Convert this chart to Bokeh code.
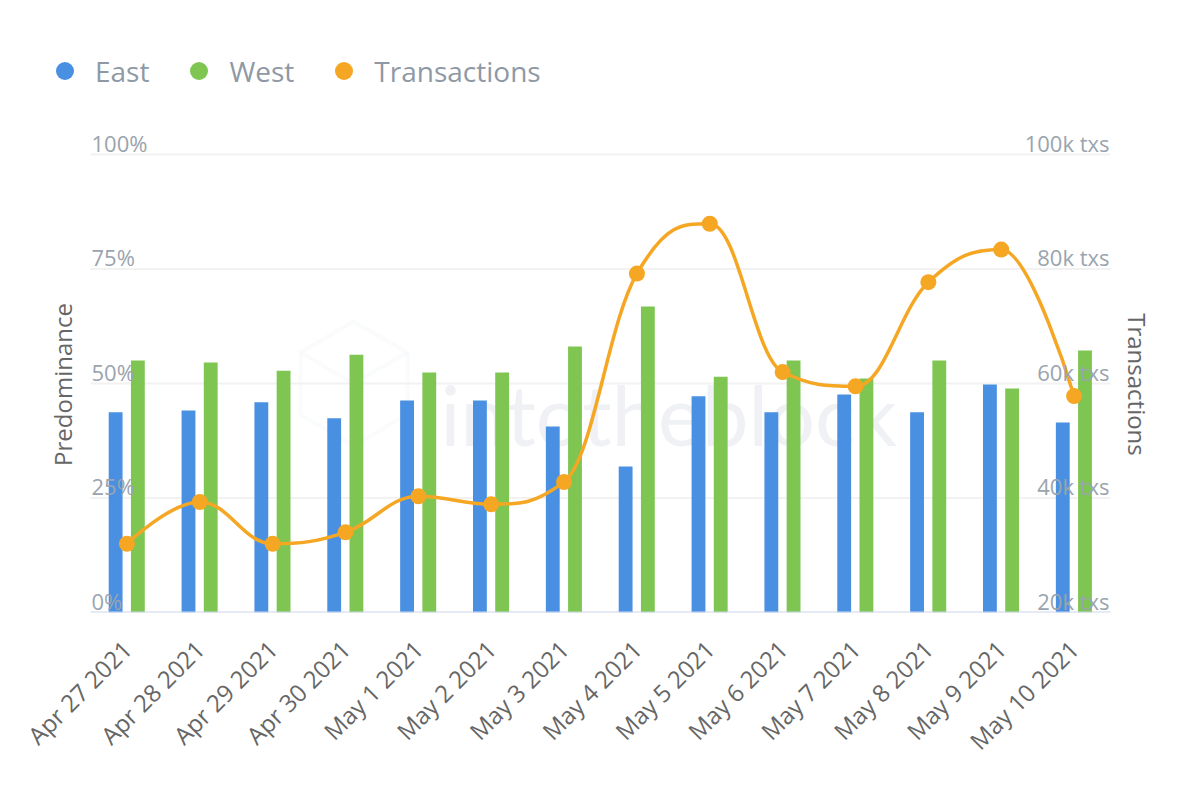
import math
from bokeh.plotting import figure
from bokeh.models import (FactorRange, Range1d, Label, Legend, LegendItem,
                          ColumnDataSource, PolyAnnotation)
from bokeh.transform import dodge
from bokeh.embed import file_html
from bokeh.resources import INLINE

# ---------------- data ----------------
dates = ["Apr 27 2021", "Apr 28 2021", "Apr 29 2021", "Apr 30 2021", "May 1 2021",
         "May 2 2021", "May 3 2021", "May 4 2021", "May 5 2021", "May 6 2021",
         "May 7 2021", "May 8 2021", "May 9 2021", "May 10 2021"]
east = [43.7, 44.1, 45.9, 42.4, 46.3, 46.3, 40.6, 31.9, 47.2, 43.7, 47.6, 43.7, 49.8, 41.5]
west = [55.0, 54.6, 52.8, 56.3, 52.4, 52.4, 58.1, 66.8, 51.5, 55.0, 51.1, 55.0, 48.9, 57.2]
transactions = [32000, 39300, 32000, 34000, 40300, 38900, 42800,
                79200, 87900, 62000, 59500, 77700, 83400, 57800]
pct_ticks = [0, 25, 50, 75, 100]
pct_labels = ["0%", "25%", "50%", "75%", "100%"]
tx_ticks = [20000, 40000, 60000, 80000, 100000]
tx_labels = ["20k txs", "40k txs", "60k txs", "80k txs", "100k txs"]

BLUE = "#4a90e2"
GREEN = "#7ec552"
ORANGE = "#f5a623"
FONT = "Open Sans"

# ---------------- layout geometry (pixels) ----------------
W, H = 1200, 800
PLOT_L, PLOT_R, PLOT_T, PLOT_B = 90, 1110, 154, 612
cat_px = (PLOT_R - PLOT_L) / len(dates)


def spline_controls(xs, ys, smoothing=1.5):
    """Highcharts-style spline control points for each segment."""
    n = len(xs)
    lc = [(xs[i], ys[i]) for i in range(n)]
    rc = [(xs[i], ys[i]) for i in range(n)]
    d = smoothing + 1
    for i in range(1, n - 1):
        px, py = xs[i], ys[i]
        lx, ly = xs[i - 1], ys[i - 1]
        nx, ny = xs[i + 1], ys[i + 1]
        lcx = (smoothing * px + lx) / d
        lcy = (smoothing * py + ly) / d
        rcx = (smoothing * px + nx) / d
        rcy = (smoothing * py + ny) / d
        corr = 0.0
        if rcx != lcx:
            corr = ((rcy - lcy) * (rcx - px)) / (rcx - lcx) + py - rcy
        lcy += corr
        rcy += corr
        if lcy > ly and lcy > py:
            lcy = max(ly, py)
            rcy = 2 * py - lcy
        elif lcy < ly and lcy < py:
            lcy = min(ly, py)
            rcy = 2 * py - lcy
        if rcy > ny and rcy > py:
            rcy = max(ny, py)
            lcy = 2 * py - rcy
        elif rcy < ny and rcy < py:
            rcy = min(ny, py)
            lcy = 2 * py - rcy
        lc[i] = (lcx, lcy)
        rc[i] = (rcx, rcy)
    seg = dict(x0=[], y0=[], x1=[], y1=[], cx0=[], cy0=[], cx1=[], cy1=[])
    for i in range(1, n):
        seg["x0"].append(xs[i - 1]); seg["y0"].append(ys[i - 1])
        seg["x1"].append(xs[i]); seg["y1"].append(ys[i])
        seg["cx0"].append(rc[i - 1][0]); seg["cy0"].append(rc[i - 1][1])
        seg["cx1"].append(lc[i][0]); seg["cy1"].append(lc[i][1])
    return seg


# frame covers the whole canvas above the x axis so that nothing is clipped
pct_span = PLOT_B - PLOT_T
y_end = 100 * PLOT_B / pct_span
tx_end = tx_ticks[0] + (tx_ticks[-1] - tx_ticks[0]) * PLOT_B / pct_span
x_pad = PLOT_L / cat_px   # applied on each side

p = figure(width=W, height=H,
           x_range=FactorRange(factors=dates, range_padding=x_pad,
                               range_padding_units="absolute"),
           y_range=Range1d(0, y_end), output_backend="svg", toolbar_location=None,
           y_axis_location=None, min_border_left=0, min_border_right=0,
           min_border_top=0, min_border_bottom=H - PLOT_B, outline_line_color=None,
           background_fill_color="white", border_fill_color="white")
p.extra_y_ranges = {"tx": Range1d(tx_ticks[0], tx_end)}
p.xgrid.visible = False
p.ygrid.visible = False

n = len(dates)

# grid lines
p.segment(x0=[0] * 4, x1=[n] * 4, y0=pct_ticks[1:], y1=pct_ticks[1:],
          line_color="#f2f2f2", line_width=2)

# watermark
wm = Label(x=440, y=PLOT_B - 413, x_units="screen", y_units="screen", text="intotheblock",
           text_font="Lato", text_font_size="83px", text_color="#eff1f5",
           text_baseline="alphabetic", level="underlay")
p.add_layout(wm)
hx = [353, 407, 407, 353, 300, 300]
hy = [321, 352, 414, 445, 414, 352]
p.add_layout(PolyAnnotation(xs=hx, ys=[PLOT_B - v for v in hy],
                            xs_units="screen", ys_units="screen", fill_alpha=0,
                            line_color="#eff1f5", line_width=4, level="underlay"))
for (ax, ay) in [(300, 352), (407, 352), (353, 445)]:
    p.add_layout(PolyAnnotation(xs=[353, ax], ys=[PLOT_B - 383, PLOT_B - ay],
                                xs_units="screen", ys_units="screen", fill_alpha=0,
                                line_color="#eff1f5", line_width=4, level="underlay"))

src = ColumnDataSource(dict(date=dates, east=east, west=west, tx=transactions))
east_x = dodge("date", -0.155, range=p.x_range)
west_x = dodge("date", 0.15, range=p.x_range)
p.vbar(x=east_x, top="east", bottom=0, width=0.19,
       source=src, fill_color=BLUE, line_color=None)
p.vbar(x=west_x, top="west", bottom=0, width=0.19,
       source=src, fill_color=GREEN, line_color=None)

# baseline (x axis line)
p.segment(x0=[0], x1=[n], y0=[0], y1=[0], line_color="#ccd6eb", line_width=2)

xs_num = [i + 0.5 for i in range(n)]
seg = spline_controls(xs_num, transactions)
p.bezier(source=ColumnDataSource(seg), x0="x0", y0="y0", x1="x1", y1="y1",
         cx0="cx0", cy0="cy0", cx1="cx1", cy1="cy1", line_color=ORANGE,
         line_width=3.5, y_range_name="tx")
r_tx = p.scatter(x="date", y="tx", source=src, size=16, fill_color=ORANGE,
                 line_color=None, y_range_name="tx")

# x axis
xa = p.xaxis[0]
xa.axis_line_color = None
xa.major_tick_line_color = None
xa.minor_tick_line_color = None
xa.major_label_orientation = math.pi / 4
xa.major_label_text_font = FONT
xa.major_label_text_font_size = "24px"
xa.major_label_text_color = "#666666"
xa.major_label_standoff = 26

# y tick labels (above grid lines)
for v, t in zip(pct_ticks, pct_labels):
    p.add_layout(Label(x=PLOT_L + 1, y=v, x_units="screen", text=t, text_font=FONT,
                       text_font_size="22px", text_color="#9aa4ae",
                       text_align="left", text_baseline="alphabetic", y_offset=12))
for v, t in zip(tx_ticks, tx_labels):
    p.add_layout(Label(x=PLOT_R - 1, y=v, x_units="screen", y_range_name="tx", text=t,
                       text_font=FONT, text_font_size="22px", text_color="#9aa4ae",
                       text_align="right", text_baseline="alphabetic", y_offset=12))

# axis titles
p.add_layout(Label(x=62, y=PLOT_B - 384, x_units="screen", y_units="screen",
                   text="Predominance", angle=math.pi / 2, text_align="center",
                   text_baseline="middle", text_font=FONT, text_font_size="24px",
                   text_color="#666666"))
p.add_layout(Label(x=1137, y=PLOT_B - 384, x_units="screen", y_units="screen",
                   text="Transactions", angle=-math.pi / 2, text_align="center",
                   text_baseline="middle", text_font=FONT, text_font_size="24px",
                   text_color="#666666"))

# legend (size-0 markers: invisible in the plot, used only for the legend glyphs)
r_e = p.scatter(x=east_x, y="east", source=src, size=0, fill_color=BLUE, line_color=None)
r_w = p.scatter(x=west_x, y="west", source=src, size=0, fill_color=GREEN, line_color=None)
legend = Legend(items=[LegendItem(label="East", renderers=[r_e]),
                       LegendItem(label="West", renderers=[r_w]),
                       LegendItem(label="Transactions", renderers=[r_tx])],
                orientation="horizontal", location=(42, PLOT_B - 93), padding=0, margin=0,
                spacing=27, glyph_width=45, glyph_height=45, label_standoff=8,
                label_text_font=FONT, label_text_font_size="28px",
                label_text_color="#8e99a5", border_line_color=None,
                background_fill_alpha=0)
p.add_layout(legend)

open("out.html", "w").write(file_html(p, INLINE))
